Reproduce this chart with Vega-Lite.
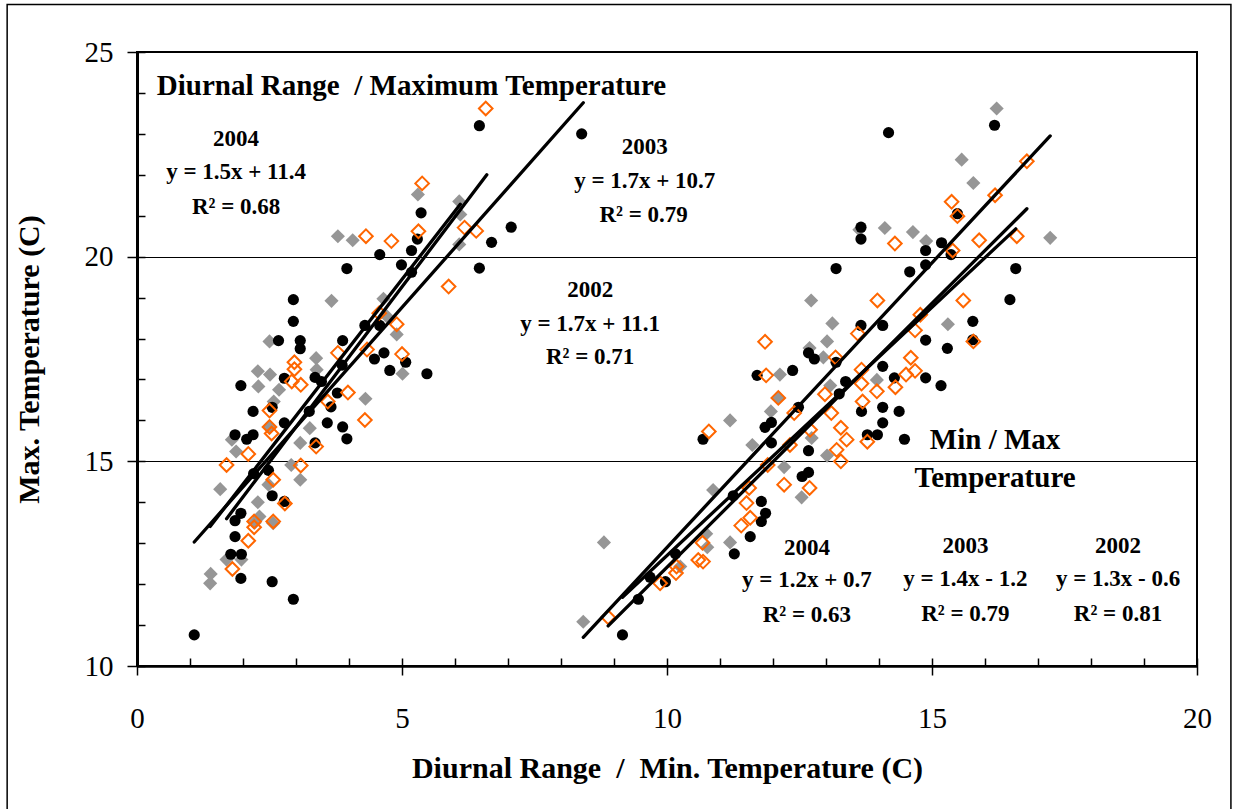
{
  "$schema": "https://vega.github.io/schema/vega-lite/v6.json",
  "width": 1060,
  "height": 614,
  "autosize": {"type": "none"},
  "padding": {"left": 137, "top": 52, "right": 38, "bottom": 143},
  "background": "white",
  "config": {"view": {"stroke": "black", "strokeWidth": 2}, "font": "Liberation Serif"},
  "datasets": {
    "frame": [{"x": -2.45, "x2": 20.64, "y": 6.3, "y2": 26.16}],
    "pts": [
      {"x":1.08,"y":10.76,"s":"2004"},{"x":2.95,"y":11.63,"s":"2004"},{"x":2.55,"y":12.06,"s":"2004"},{"x":1.96,"y":12.14,"s":"2004"},
      {"x":1.77,"y":12.73,"s":"2004"},{"x":1.97,"y":12.73,"s":"2004"},{"x":1.85,"y":13.16,"s":"2004"},{"x":1.85,"y":13.55,"s":"2004"},
      {"x":1.96,"y":13.73,"s":"2004"},{"x":2.55,"y":14.16,"s":"2004"},{"x":2.78,"y":14.02,"s":"2004"},{"x":2.2,"y":14.7,"s":"2004"},
      {"x":2.48,"y":14.78,"s":"2004"},{"x":1.85,"y":15.65,"s":"2004"},{"x":2.07,"y":15.54,"s":"2004"},{"x":2.19,"y":15.65,"s":"2004"},
      {"x":1.96,"y":16.85,"s":"2004"},{"x":2.19,"y":16.22,"s":"2004"},{"x":2.55,"y":16.32,"s":"2004"},{"x":2.78,"y":15.94,"s":"2004"},
      {"x":2.67,"y":17.95,"s":"2004"},{"x":3.08,"y":17.95,"s":"2004"},{"x":3.08,"y":17.75,"s":"2004"},{"x":2.78,"y":17.03,"s":"2004"},
      {"x":3.36,"y":17.05,"s":"2004"},{"x":3.48,"y":16.95,"s":"2004"},{"x":3.78,"y":16.67,"s":"2004"},{"x":3.66,"y":16.33,"s":"2004"},
      {"x":3.59,"y":15.94,"s":"2004"},{"x":3.88,"y":15.84,"s":"2004"},{"x":3.96,"y":15.55,"s":"2004"},{"x":3.36,"y":15.45,"s":"2004"},
      {"x":3.25,"y":16.22,"s":"2004"},{"x":3.88,"y":17.95,"s":"2004"},{"x":3.87,"y":17.35,"s":"2004"},{"x":2.95,"y":18.95,"s":"2004"},
      {"x":2.95,"y":18.42,"s":"2004"},{"x":3.96,"y":19.71,"s":"2004"},{"x":4.3,"y":18.32,"s":"2004"},{"x":4.58,"y":18.32,"s":"2004"},
      {"x":4.48,"y":17.5,"s":"2004"},{"x":4.66,"y":17.65,"s":"2004"},{"x":4.77,"y":17.22,"s":"2004"},{"x":5.07,"y":17.42,"s":"2004"},
      {"x":5.47,"y":17.14,"s":"2004"},{"x":4.58,"y":20.05,"s":"2004"},{"x":4.99,"y":19.8,"s":"2004"},{"x":5.18,"y":19.62,"s":"2004"},
      {"x":5.18,"y":20.15,"s":"2004"},{"x":5.29,"y":20.43,"s":"2004"},{"x":5.36,"y":21.07,"s":"2004"},{"x":6.46,"y":19.72,"s":"2004"},
      {"x":6.69,"y":20.35,"s":"2004"},{"x":7.06,"y":20.72,"s":"2004"},{"x":6.46,"y":23.2,"s":"2004"},{"x":8.39,"y":23.0,"s":"2004"},
      {"x":9.16,"y":10.76,"s":"2004"},{"x":9.46,"y":11.63,"s":"2004"},{"x":9.97,"y":12.06,"s":"2004"},{"x":9.68,"y":12.17,"s":"2004"},
      {"x":10.16,"y":12.74,"s":"2004"},{"x":11.27,"y":12.74,"s":"2004"},{"x":11.57,"y":13.16,"s":"2004"},{"x":11.78,"y":13.53,"s":"2004"},
      {"x":11.86,"y":13.73,"s":"2004"},{"x":11.78,"y":14.02,"s":"2004"},{"x":11.25,"y":14.16,"s":"2004"},{"x":12.55,"y":14.63,"s":"2004"},
      {"x":12.67,"y":14.73,"s":"2004"},{"x":12.67,"y":15.26,"s":"2004"},{"x":10.68,"y":15.54,"s":"2004"},{"x":11.85,"y":15.83,"s":"2004"},
      {"x":11.97,"y":15.95,"s":"2004"},{"x":11.97,"y":15.45,"s":"2004"},{"x":12.48,"y":16.32,"s":"2004"},{"x":13.67,"y":16.22,"s":"2004"},
      {"x":14.07,"y":16.32,"s":"2004"},{"x":14.38,"y":16.22,"s":"2004"},{"x":14.07,"y":15.94,"s":"2004"},{"x":13.78,"y":15.65,"s":"2004"},
      {"x":13.97,"y":15.65,"s":"2004"},{"x":14.48,"y":15.54,"s":"2004"},{"x":15.17,"y":16.85,"s":"2004"},{"x":13.25,"y":16.65,"s":"2004"},
      {"x":13.37,"y":16.95,"s":"2004"},{"x":14.29,"y":17.04,"s":"2004"},{"x":14.88,"y":17.04,"s":"2004"},{"x":14.07,"y":17.32,"s":"2004"},
      {"x":13.19,"y":17.42,"s":"2004"},{"x":12.37,"y":17.22,"s":"2004"},{"x":12.67,"y":17.65,"s":"2004"},{"x":12.78,"y":17.5,"s":"2004"},
      {"x":14.88,"y":17.96,"s":"2004"},{"x":15.29,"y":17.76,"s":"2004"},{"x":15.77,"y":17.97,"s":"2004"},{"x":15.77,"y":18.42,"s":"2004"},
      {"x":13.66,"y":18.32,"s":"2004"},{"x":14.07,"y":18.32,"s":"2004"},{"x":16.47,"y":18.95,"s":"2004"},{"x":16.58,"y":19.71,"s":"2004"},
      {"x":13.19,"y":19.71,"s":"2004"},{"x":14.58,"y":19.63,"s":"2004"},{"x":14.88,"y":19.8,"s":"2004"},{"x":15.36,"y":20.05,"s":"2004"},
      {"x":14.88,"y":20.15,"s":"2004"},{"x":15.18,"y":20.34,"s":"2004"},{"x":13.66,"y":20.43,"s":"2004"},{"x":13.66,"y":20.72,"s":"2004"},
      {"x":15.48,"y":21.05,"s":"2004"},{"x":14.18,"y":23.03,"s":"2004"},{"x":16.18,"y":23.21,"s":"2004"},{"x":11.7,"y":17.1,"s":"2004"},

      {"x":1.38,"y":12.02,"s":"2003"},{"x":1.39,"y":12.25,"s":"2003"},{"x":1.69,"y":12.6,"s":"2003"},{"x":1.97,"y":12.6,"s":"2003"},
      {"x":1.57,"y":14.32,"s":"2003"},{"x":2.22,"y":13.5,"s":"2003"},{"x":2.28,"y":14.0,"s":"2003"},{"x":2.31,"y":13.65,"s":"2003"},
      {"x":2.57,"y":13.49,"s":"2003"},{"x":1.87,"y":15.24,"s":"2003"},{"x":1.79,"y":15.53,"s":"2003"},{"x":2.48,"y":14.43,"s":"2003"},
      {"x":2.91,"y":14.91,"s":"2003"},{"x":3.08,"y":14.55,"s":"2003"},{"x":3.08,"y":15.45,"s":"2003"},{"x":3.26,"y":15.81,"s":"2003"},
      {"x":2.5,"y":15.85,"s":"2003"},{"x":2.68,"y":16.75,"s":"2003"},{"x":2.29,"y":16.83,"s":"2003"},{"x":2.28,"y":17.2,"s":"2003"},
      {"x":2.51,"y":17.12,"s":"2003"},{"x":2.58,"y":16.46,"s":"2003"},{"x":2.5,"y":17.93,"s":"2003"},{"x":3.38,"y":17.52,"s":"2003"},
      {"x":3.39,"y":17.24,"s":"2003"},{"x":3.67,"y":18.92,"s":"2003"},{"x":4.31,"y":16.53,"s":"2003"},{"x":5.01,"y":17.14,"s":"2003"},
      {"x":4.9,"y":18.1,"s":"2003"},{"x":4.65,"y":18.97,"s":"2003"},{"x":4.7,"y":18.56,"s":"2003"},{"x":3.79,"y":20.5,"s":"2003"},
      {"x":4.07,"y":20.4,"s":"2003"},{"x":5.3,"y":21.52,"s":"2003"},{"x":6.08,"y":21.35,"s":"2003"},{"x":6.1,"y":21.03,"s":"2003"},
      {"x":6.08,"y":20.3,"s":"2003"},
      {"x":8.42,"y":11.08,"s":"2003"},{"x":8.81,"y":13.02,"s":"2003"},{"x":10.25,"y":12.43,"s":"2003"},{"x":10.74,"y":13.23,"s":"2003"},
      {"x":10.76,"y":12.9,"s":"2003"},{"x":11.19,"y":13.02,"s":"2003"},{"x":10.87,"y":14.3,"s":"2003"},{"x":11.19,"y":16.0,"s":"2003"},
      {"x":11.61,"y":15.4,"s":"2003"},{"x":11.96,"y":16.22,"s":"2003"},{"x":12.1,"y":16.55,"s":"2003"},{"x":12.21,"y":14.86,"s":"2003"},
      {"x":12.54,"y":14.12,"s":"2003"},{"x":12.73,"y":15.57,"s":"2003"},{"x":13.02,"y":15.14,"s":"2003"},{"x":13.08,"y":16.85,"s":"2003"},
      {"x":12.13,"y":17.12,"s":"2003"},{"x":12.69,"y":17.77,"s":"2003"},{"x":12.95,"y":17.54,"s":"2003"},{"x":13.02,"y":17.93,"s":"2003"},
      {"x":13.12,"y":18.37,"s":"2003"},{"x":12.72,"y":18.93,"s":"2003"},{"x":13.96,"y":16.99,"s":"2003"},{"x":15.3,"y":18.35,"s":"2003"},
      {"x":13.63,"y":20.66,"s":"2003"},{"x":14.11,"y":20.7,"s":"2003"},{"x":14.64,"y":20.6,"s":"2003"},{"x":14.89,"y":20.38,"s":"2003"},
      {"x":17.23,"y":20.46,"s":"2003"},{"x":15.78,"y":21.8,"s":"2003"},{"x":15.56,"y":22.37,"s":"2003"},{"x":16.22,"y":23.62,"s":"2003"},

      {"x":1.8,"y":12.37,"s":"2002"},{"x":2.1,"y":13.06,"s":"2002"},{"x":2.21,"y":13.39,"s":"2002"},{"x":2.21,"y":13.53,"s":"2002"},
      {"x":2.57,"y":13.53,"s":"2002"},{"x":2.79,"y":13.97,"s":"2002"},{"x":2.57,"y":14.55,"s":"2002"},{"x":1.69,"y":14.91,"s":"2002"},
      {"x":2.1,"y":15.18,"s":"2002"},{"x":3.09,"y":14.9,"s":"2002"},{"x":3.38,"y":15.36,"s":"2002"},{"x":2.5,"y":15.84,"s":"2002"},
      {"x":2.54,"y":15.68,"s":"2002"},{"x":2.5,"y":16.24,"s":"2002"},{"x":4.3,"y":16.01,"s":"2002"},{"x":3.98,"y":16.68,"s":"2002"},
      {"x":3.6,"y":16.46,"s":"2002"},{"x":3.09,"y":16.87,"s":"2002"},{"x":2.92,"y":16.95,"s":"2002"},{"x":2.97,"y":17.42,"s":"2002"},
      {"x":2.97,"y":17.25,"s":"2002"},{"x":3.79,"y":17.65,"s":"2002"},{"x":4.34,"y":17.73,"s":"2002"},{"x":5.0,"y":17.62,"s":"2002"},
      {"x":4.9,"y":18.35,"s":"2002"},{"x":4.57,"y":18.62,"s":"2002"},{"x":5.88,"y":19.27,"s":"2002"},{"x":4.32,"y":20.5,"s":"2002"},
      {"x":4.8,"y":20.38,"s":"2002"},{"x":5.31,"y":20.62,"s":"2002"},{"x":6.18,"y":20.71,"s":"2002"},{"x":6.4,"y":20.63,"s":"2002"},
      {"x":5.38,"y":21.79,"s":"2002"},{"x":6.58,"y":23.62,"s":"2002"},
      {"x":8.89,"y":11.19,"s":"2002"},{"x":9.87,"y":12.02,"s":"2002"},{"x":10.17,"y":12.27,"s":"2002"},{"x":10.18,"y":12.43,"s":"2002"},
      {"x":10.59,"y":12.59,"s":"2002"},{"x":10.68,"y":12.55,"s":"2002"},{"x":10.67,"y":13.01,"s":"2002"},{"x":11.4,"y":13.43,"s":"2002"},
      {"x":11.57,"y":13.62,"s":"2002"},{"x":11.5,"y":13.98,"s":"2002"},{"x":11.55,"y":14.35,"s":"2002"},{"x":11.9,"y":14.91,"s":"2002"},
      {"x":12.21,"y":14.43,"s":"2002"},{"x":12.69,"y":14.35,"s":"2002"},{"x":10.79,"y":15.73,"s":"2002"},{"x":12.32,"y":15.4,"s":"2002"},
      {"x":12.1,"y":16.55,"s":"2002"},{"x":12.4,"y":16.18,"s":"2002"},{"x":12.7,"y":15.77,"s":"2002"},{"x":12.98,"y":16.64,"s":"2002"},
      {"x":13.1,"y":16.18,"s":"2002"},{"x":13.28,"y":15.82,"s":"2002"},{"x":13.39,"y":15.53,"s":"2002"},{"x":13.2,"y":15.28,"s":"2002"},
      {"x":13.28,"y":15.0,"s":"2002"},{"x":13.69,"y":16.46,"s":"2002"},{"x":13.96,"y":16.71,"s":"2002"},{"x":14.31,"y":16.81,"s":"2002"},
      {"x":13.78,"y":15.48,"s":"2002"},{"x":13.67,"y":16.9,"s":"2002"},{"x":13.67,"y":17.24,"s":"2002"},{"x":14.51,"y":17.12,"s":"2002"},
      {"x":14.68,"y":17.21,"s":"2002"},{"x":14.6,"y":17.53,"s":"2002"},{"x":13.18,"y":17.54,"s":"2002"},{"x":13.6,"y":18.12,"s":"2002"},
      {"x":14.68,"y":18.2,"s":"2002"},{"x":14.78,"y":18.58,"s":"2002"},{"x":15.78,"y":17.93,"s":"2002"},{"x":13.97,"y":18.93,"s":"2002"},
      {"x":15.59,"y":18.93,"s":"2002"},{"x":14.3,"y":20.32,"s":"2002"},{"x":15.39,"y":20.15,"s":"2002"},{"x":15.89,"y":20.4,"s":"2002"},
      {"x":16.6,"y":20.5,"s":"2002"},{"x":15.37,"y":21.34,"s":"2002"},{"x":15.48,"y":20.99,"s":"2002"},{"x":16.19,"y":21.5,"s":"2002"},
      {"x":16.79,"y":22.33,"s":"2002"},{"x":11.85,"y":17.92,"s":"2002"},{"x":11.87,"y":17.1,"s":"2002"}
    ],
    "fits": [
      {"x":1.08,"y":13.03,"x2":8.42,"y2":23.76,"s":"2004"},
      {"x":1.69,"y":13.6,"x2":6.6,"y2":22.0,"s":"2002"},
      {"x":1.38,"y":13.41,"x2":6.1,"y2":21.28,"s":"2003"},
      {"x":8.42,"y":10.7,"x2":17.23,"y2":22.95,"s":"2003"},
      {"x":8.89,"y":10.98,"x2":16.79,"y2":21.17,"s":"2002"},
      {"x":9.16,"y":11.68,"x2":16.58,"y2":20.68,"s":"2004"}
    ],
    "labels": [
      {"x":5.18,"y":24.18,"t":"Diurnal Range \u00a0/ Maximum Temperature","k":"head"},
      {"x":16.19,"y":15.53,"t":"Min / Max","k":"head"},
      {"x":16.19,"y":14.6,"t":"Temperature","k":"head"},
      {"x":1.87,"y":22.87,"t":"2004","k":"eq"},
      {"x":1.87,"y":22.08,"t":"y = 1.5x + 11.4","k":"eq"},
      {"x":1.87,"y":21.22,"t":"R² = 0.68","k":"eq"},
      {"x":9.58,"y":22.69,"t":"2003","k":"eq"},
      {"x":9.58,"y":21.86,"t":"y = 1.7x + 10.7","k":"eq"},
      {"x":9.56,"y":21.03,"t":"R² = 0.79","k":"eq"},
      {"x":8.55,"y":19.19,"t":"2002","k":"eq"},
      {"x":8.55,"y":18.36,"t":"y = 1.7x + 11.1","k":"eq"},
      {"x":8.55,"y":17.56,"t":"R² = 0.71","k":"eq"},
      {"x":12.64,"y":12.88,"t":"2004","k":"eq"},
      {"x":12.64,"y":12.1,"t":"y = 1.2x + 0.7","k":"eq"},
      {"x":12.64,"y":11.25,"t":"R² = 0.63","k":"eq"},
      {"x":15.63,"y":12.92,"t":"2003","k":"eq"},
      {"x":15.63,"y":12.12,"t":"y = 1.4x - 1.2","k":"eq"},
      {"x":15.63,"y":11.27,"t":"R² = 0.79","k":"eq"},
      {"x":18.51,"y":12.92,"t":"2002","k":"eq"},
      {"x":18.51,"y":12.12,"t":"y = 1.3x - 0.6","k":"eq"},
      {"x":18.51,"y":11.27,"t":"R² = 0.81","k":"eq"}
    ]
  },
  "encoding": {
    "x": {"field": "x", "type": "quantitative", "scale": {"domain": [0, 20], "nice": false, "zero": false}, "axis": null},
    "y": {"field": "y", "type": "quantitative", "scale": {"domain": [10, 25], "nice": false, "zero": false}, "axis": null}
  },
  "layer": [
    {
      "data": {"name": "frame"},
      "mark": {"type": "rect", "fill": "transparent", "stroke": "black", "strokeWidth": 1.5},
      "encoding": {"x2": {"field": "x2"}, "y2": {"field": "y2"}}
    },
    {
      "data": {"name": "pts"},
      "transform": [{"filter": "datum.s === '2003'"}],
      "mark": {"type": "point", "shape": "diamond", "filled": true, "color": "#969696", "opacity": 1, "size": 200},
      "encoding": {
        "x": {"field": "x", "type": "quantitative", "scale": {"domain": [0, 20], "nice": false, "zero": false},
          "axis": {"orient": "bottom", "values": [0, 5, 10, 15, 20], "format": "d", "tickSize": 9, "tickWidth": 1.5, "tickColor": "black",
            "domainColor": "black", "domainWidth": 2.5, "labelFont": "Liberation Serif", "labelFontSize": 29, "labelColor": "black",
            "labelPadding": 29, "labelFlush": false, "labelOverlap": false, "grid": false,
            "title": "Diurnal Range \u00a0/\u00a0 Min. Temperature (C)", "titleFont": "Liberation Serif", "titleFontSize": 30,
            "titleFontWeight": "bold", "titleColor": "black", "titlePadding": 20}},
        "y": {"field": "y", "type": "quantitative", "scale": {"domain": [10, 25], "nice": false, "zero": false},
          "axis": {"orient": "left", "values": [10, 15, 20, 25], "format": "d", "tickSize": 10, "tickWidth": 1.5, "tickColor": "black",
            "domainColor": "black", "domainWidth": 3, "labelFont": "Liberation Serif", "labelFontSize": 29, "labelColor": "black",
            "labelPadding": 14, "labelFlush": false, "labelOverlap": false, "grid": true, "gridColor": "black", "gridWidth": 1,
            "title": "Max. Temperature (C)", "titleFont": "Liberation Serif", "titleFontSize": 30,
            "titleFontWeight": "bold", "titleColor": "black", "titlePadding": 40}}
      }
    },
    {
      "data": {"name": "pts"},
      "transform": [{"filter": "datum.s === '2004'"}],
      "mark": {"type": "circle", "color": "black", "opacity": 1, "size": 125},
      "encoding": {
        "x": {"field": "x", "type": "quantitative", "scale": {"domain": [0, 20], "nice": false, "zero": false},
          "axis": {"orient": "bottom", "values": [0,1,2,3,4,5,6,7,8,9,10,11,12,13,14,15,16,17,18,19,20], "tickSize": -8, "tickWidth": 1.5,
            "tickColor": "black", "labels": false, "domain": false, "grid": false, "title": null}},
        "y": {"field": "y", "type": "quantitative", "scale": {"domain": [10, 25], "nice": false, "zero": false},
          "axis": {"orient": "left", "values": [10,11,12,13,14,15,16,17,18,19,20,21,22,23,24,25], "tickSize": -8, "tickWidth": 1.5,
            "tickColor": "black", "labels": false, "domain": false, "grid": false, "title": null}}
      }
    },
    {
      "data": {"name": "pts"},
      "transform": [{"filter": "datum.s === '2002'"}],
      "mark": {"type": "point", "shape": "diamond", "filled": false, "color": "#FF6600", "strokeWidth": 2, "opacity": 1, "size": 185}
    },
    {
      "data": {"name": "fits"},
      "mark": {"type": "rule", "color": "black", "strokeWidth": 3.3, "strokeCap": "round"},
      "encoding": {"x2": {"field": "x2"}, "y2": {"field": "y2"}}
    },
    {
      "data": {"name": "labels"},
      "transform": [{"filter": "datum.k === 'head'"}],
      "mark": {"type": "text", "font": "Liberation Serif", "fontWeight": "bold", "fontSize": 29, "align": "center", "baseline": "middle", "color": "black"},
      "encoding": {"text": {"field": "t"}}
    },
    {
      "data": {"name": "labels"},
      "transform": [{"filter": "datum.k === 'eq'"}],
      "mark": {"type": "text", "font": "Liberation Serif", "fontWeight": "bold", "fontSize": 23, "align": "center", "baseline": "middle", "color": "black"},
      "encoding": {"text": {"field": "t"}}
    }
  ],
  "resolve": {"axis": {"x": "independent", "y": "independent"}}
}
